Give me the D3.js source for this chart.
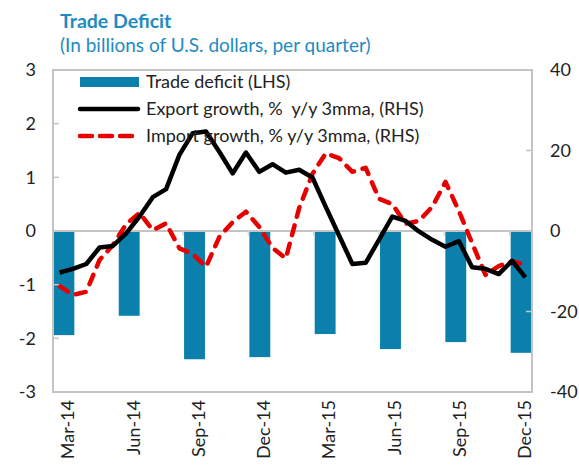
<!DOCTYPE html>
<html>
<head>
<meta charset="utf-8">
<script src="https://cdn.jsdelivr.net/npm/d3@7"></script>
<style>
  body { margin: 0; background: #fff; }
  svg text { font-family: Lato, "Open Sans", sans-serif; }
</style>
</head>
<body>
<div class="curr-graff"></div>
<script>
// monthly categories of the main axis
const months = ["Mar-14","Apr-14","May-14","Jun-14","Jul-14","Aug-14","Sep-14","Oct-14","Nov-14","Dec-14",
    "Jan-15","Feb-15","Mar-15","Apr-15","May-15","Jun-15","Jul-15","Aug-15","Sep-15","Oct-15","Nov-15","Dec-15"];
const quarters = ["Mar-14","Jun-14","Sep-14","Dec-14","Mar-15","Jun-15","Sep-15","Dec-15"];
const deficit = [-1.94, -1.58, -2.39, -2.35, -1.92, -2.2, -2.07, -2.27];

// growth lines sit on their own (hidden) axis with 36 points
const linePoints = d3.range(36);
const exportGrowth = [-10.3, -9.4, -8.2, -4.1, -3.7, -0.6, 3.6, 8.4, 10.4, 18.9, 24.3, 24.7,
    19.7, 14.3, 19.5, 14.7, 16.6, 14.5, 15.2, 13.3, 6.0, -1.1, -8.2, -7.9,
    -2.2, 3.6, 2.5, -0.1, -2.2, -3.9, -2.5, -9.0, -9.4, -10.7, -7.4, -11.5];
const importGrowth = [-13.7, -15.9, -15.1, -7.2, -3.5, 1.7, 4.5, 0.2, 1.9, -4.3, -5.7, -8.9,
    -1.5, 2.2, 4.8, 1.0, -4.2, -6.8, 5.7, 14.2, 19.3, 18.1, 14.7, 15.7,
    8.0, 6.7, 1.8, 2.5, 6.0, 12.2, 5.0, -3.0, -10.9, -8.7, -7.5, -8.4];

const leftTicks = [3, 2, 1, 0, -1, -2, -3];
const rightTicks = [40, 20, 0, -20, -40];

const legendItems = ["Trade deficit (LHS)", "Export growth, %  y/y 3mma, (RHS)", "Import growth, % y/y 3mma, (RHS)"];

const W = 579, H = 465;
const pLeft = 53, pRight = 532, pTop = 70, pBottom = 392;
const blue = "#0b80ad", grey = "#c4c4c4", titleCol = "#1e8bc3";

var svg = d3.select(".curr-graff")
    .append("svg")
    .attr("width", W)
    .attr("height", H);

var xBand = d3.scaleBand().domain(months).range([pLeft, pRight]).paddingInner(0.04).paddingOuter(0.02);
var xLine = d3.scalePoint().domain(linePoints).range([pLeft, pRight]).padding(0.5);
var yL = d3.scaleLinear().domain([-3, 3]).range([pBottom, pTop]);
var yR = d3.scaleLinear().domain([-40, 40]).range([pBottom, pTop]);

// titles
svg.append("text").attr("x", 60).attr("y", 28)
    .text("Trade Deficit")
    .style("font-weight", "bold").style("font-size", "19.5px").style("fill", titleCol);
svg.append("text").attr("x", 60).attr("y", 52)
    .text("(In billions of U.S. dollars, per quarter)")
    .style("font-size", "19px").style("fill", titleCol);

// bars
svg.selectAll("rect.bar")
    .data(quarters)
    .enter()
    .append("rect")
    .attr("class", "bar")
    .attr("x", d => xBand(d))
    .attr("width", xBand.bandwidth())
    .attr("y", yL(0))
    .attr("height", (d, i) => yL(deficit[i]) - yL(0))
    .attr("fill", blue);

// zero line and quarter ticks
svg.append("line")
    .attr("x1", pLeft).attr("x2", pRight)
    .attr("y1", yL(0)).attr("y2", yL(0))
    .attr("stroke", grey).attr("stroke-width", 2);
svg.selectAll("line.qtick")
    .data(quarters.slice(1))
    .enter()
    .append("line")
    .attr("class", "qtick")
    .attr("x1", d => xBand(d) - 1).attr("x2", d => xBand(d) - 1)
    .attr("y1", yL(0)).attr("y2", yL(0) + 5)
    .attr("stroke", "#d8d8d8").attr("stroke-width", 1.5);

// lines
var lineR = d3.line()
    .x((d, i) => xLine(linePoints[i]))
    .y(d => yR(d));

svg.append("path")
    .datum(importGrowth)
    .attr("fill", "none")
    .attr("stroke", "#e60000")
    .attr("stroke-width", 4.5)
    .attr("stroke-dasharray", "10,9")
    .attr("stroke-linecap", "round")
    .attr("stroke-linejoin", "round")
    .attr("d", lineR);

svg.append("path")
    .datum(exportGrowth)
    .attr("fill", "none")
    .attr("stroke", "#000")
    .attr("stroke-width", 4.5)
    .attr("stroke-linejoin", "round")
    .attr("d", lineR);

// frame
svg.append("rect")
    .attr("x", pLeft).attr("y", pTop)
    .attr("width", pRight - pLeft).attr("height", pBottom - pTop)
    .attr("fill", "none").attr("stroke", grey).attr("stroke-width", 2);

// left axis
var yAxisL = d3.axisLeft(yL).tickValues(leftTicks).tickSize(0).tickPadding(17)
    .tickFormat(d => String(d));
var gL = svg.append("g")
    .attr("transform", "translate(" + pLeft + ",0)")
    .call(yAxisL);
gL.select(".domain").remove();
gL.selectAll("text").style("font-size", "18px").style("fill", "#222");
svg.selectAll("line.ltick")
    .data(leftTicks.slice(1, -1))
    .enter()
    .append("line")
    .attr("class", "ltick")
    .attr("x1", pLeft).attr("x2", pLeft + 6)
    .attr("y1", d => yL(d)).attr("y2", d => yL(d))
    .attr("stroke", grey).attr("stroke-width", 1.5);

// right axis
var yAxisR = d3.axisRight(yR).tickValues(rightTicks).tickSize(0).tickPadding(18)
    .tickFormat(d => String(d));
var gR = svg.append("g")
    .attr("transform", "translate(" + pRight + ",0)")
    .call(yAxisR);
gR.select(".domain").remove();
gR.selectAll("text").style("font-size", "18px").style("fill", "#222");
svg.selectAll("line.rtick")
    .data(rightTicks.slice(1, -1))
    .enter()
    .append("line")
    .attr("class", "rtick")
    .attr("x1", pRight - 6).attr("x2", pRight)
    .attr("y1", d => yR(d)).attr("y2", d => yR(d))
    .attr("stroke", grey).attr("stroke-width", 1.5);

// x labels (rotated)
svg.selectAll("text.xlab")
    .data(quarters)
    .enter()
    .append("text")
    .attr("class", "xlab")
    .attr("transform", d => "translate(" + (xBand(d) + xBand.bandwidth() / 2 + 4) + "," + 400 + ") rotate(-90)")
    .attr("dy", "0.35em")
    .attr("text-anchor", "end")
    .text(d => d)
    .style("font-size", "18px")
    .style("fill", "#222");

// legend
var leg = svg.append("g").attr("class", "legend");
leg.append("rect")
    .attr("x", 80).attr("y", 77).attr("width", 59).attr("height", 10)
    .attr("fill", blue);
leg.append("line")
    .attr("x1", 80).attr("x2", 138).attr("y1", 109).attr("y2", 109)
    .attr("stroke", "#000").attr("stroke-width", 4.5).attr("stroke-linecap", "round");
leg.append("line")
    .attr("x1", 80).attr("x2", 138).attr("y1", 136).attr("y2", 136)
    .attr("stroke", "#e60000").attr("stroke-width", 4.5)
    .attr("stroke-dasharray", "12,8").attr("stroke-linecap", "round");
leg.selectAll("text")
    .data(legendItems)
    .enter()
    .append("text")
    .attr("x", 146)
    .attr("y", (d, i) => 82 + i * 27)
    .attr("dy", "0.35em")
    .text(d => d)
    .style("font-size", "18px")
    .style("fill", "#222")
    .style("white-space", "pre");
</script>
</body>
</html>
